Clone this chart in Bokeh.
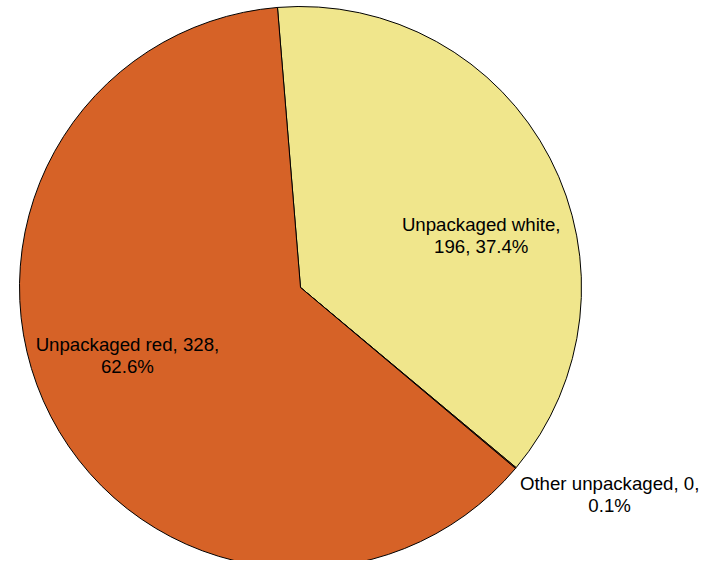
import math
from bokeh.plotting import figure
from bokeh.models import ColumnDataSource, Range1d
from bokeh.core.properties import value
from bokeh.embed import file_html
from bokeh.resources import INLINE

# ---- data ----
categories = ["Unpackaged white", "Other unpackaged", "Unpackaged red"]
amounts = [196, 0.3, 328]
colors = ["#F0E68C", "#D96426", "#D66227"]
# where each label breaks onto its second line (after N comma-separated parts)
label_breaks = [1, 2, 2]

# ---- layout (pixel-like units, y up) ----
W, H = 700, 560
cx, cy, R = 300, -287, 281
start_deg = 94.7
label_r = [188, 372, 186]
label_ang = [16.0, -33.8, 201.5]

total = sum(amounts)
starts, ends, texts, lx, ly = [], [], [], [], []
cum = 0.0
for i, (c, v) in enumerate(zip(categories, amounts)):
    a0 = start_deg - cum / total * 360
    cum += v
    a1 = start_deg - cum / total * 360
    starts.append(math.radians(a0))
    ends.append(math.radians(a1))
    pct = v / total * 100
    parts = [c, f"{v:.0f}", f"{pct:.1f}%"]
    b = label_breaks[i]
    texts.append(", ".join(parts[:b]) + ",\n" + ", ".join(parts[b:]))
    ang = math.radians(label_ang[i])
    lx.append(cx + label_r[i] * math.cos(ang))
    ly.append(cy + label_r[i] * math.sin(ang))

src = ColumnDataSource(dict(start=starts, end=ends, color=colors,
                            text=texts, lx=lx, ly=ly))

p = figure(width=W, height=H, x_range=Range1d(0, W), y_range=Range1d(-H, 0),
           output_backend="svg", toolbar_location=None, min_border=0)
p.axis.visible = False
p.grid.visible = False
p.outline_line_color = None
p.background_fill_color = "white"
p.border_fill_color = "white"

p.wedge(x=cx, y=cy, radius=R, start_angle="start", end_angle="end",
        direction="clock", fill_color="color", line_color="black",
        line_width=1, source=src)

p.text(x="lx", y="ly", text="text", source=src, text_align="center",
       text_baseline="middle", text_font=value("Liberation Sans"),
       text_font_size="18.67px", text_color="black", text_line_height=1.07)

open("out.html", "w").write(file_html(p, INLINE))
